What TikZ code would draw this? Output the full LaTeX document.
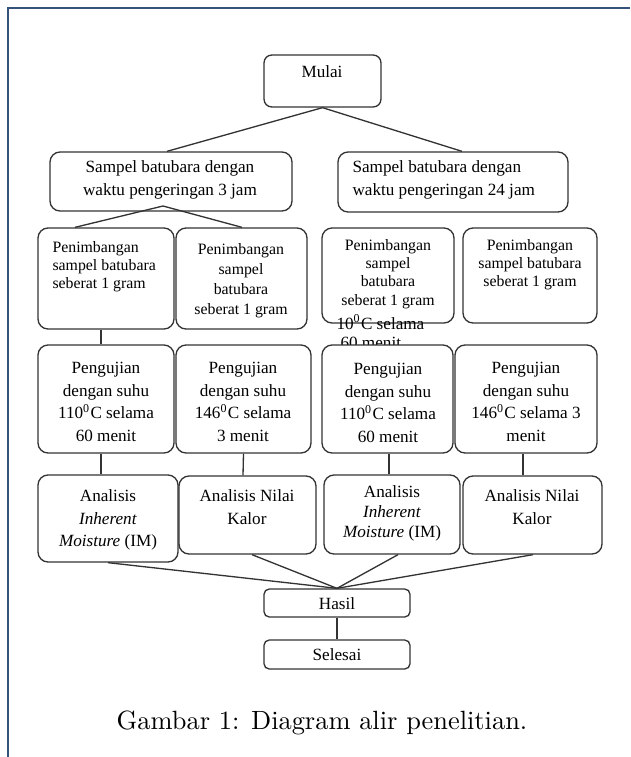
\documentclass[tikz,border=0pt]{standalone}
\usepackage{fontspec}
\newfontfamily\boxfont{Liberation Serif}
\usetikzlibrary{fit}
\definecolor{bingkai}{RGB}{52,82,122}

\begin{document}
\begin{tikzpicture}[x=0.379pt, y=-0.379pt,
    kotak/.style={draw=black!80, line width=0.5pt, rounded corners=3.8pt, inner sep=0pt, fill=white},
    teks/.style={font=\boxfont\fontsize{6.5}{8.5}\selectfont, align=center, inner sep=0pt},
    kecil/.style={font=\boxfont\fontsize{6}{6.9}\selectfont, align=center, inner sep=0pt},
    garis/.style={black!80, line width=0.5pt}]

    \useasboundingbox (0,0) rectangle (630,757);
    \draw[bingkai, line width=0.45pt] (8,757) -- (8,8) -- (630,8);

    \node[kotak, rounded corners=3pt, fit={(264,55) (381,107)}] (mulai) {};
    \node[kotak, fit={(50,152) (292,211)}] (sampel1) {};
    \node[kotak, fit={(338,152) (568,212)}] (sampel2) {};

    \node[kotak, fit={(38,228) (174,329)}] (pen1) {};
    \node[kotak, fit={(176,228) (307,329)}] (pen2) {};
    \node[kotak, fit={(322,228) (454,323)}] (pen3) {};
    \node[kotak, fit={(463,228) (597,323)}] (pen4) {};

    % sisa teks di bawah kotak penimbangan
    \node[teks, anchor=west] (sisa1) at (336,322) {10\textsuperscript{0}C selama};
    \node[teks, anchor=west] (sisa2) at (340,343) {60 menit};

    \node[kotak, fit={(38,345) (174,453)}] (uji1) {};
    \node[kotak, fit={(176,345) (311,453)}] (uji2) {};
    \node[kotak, fit={(322,345) (453,453)}] (uji3) {};
    \node[kotak, fit={(455,345) (597,453)}] (uji4) {};

    \node[kotak, fit={(38,475) (178,562)}] (ana1) {};
    \node[kotak, fit={(179,476) (316,554)}] (ana2) {};
    \node[kotak, fit={(324,475) (460,554)}] (ana3) {};
    \node[kotak, fit={(463,476) (602,554)}] (ana4) {};

    \node[kotak, rounded corners=2pt, fit={(264,589) (410,617)}] (hasil) {};
    \node[kotak, rounded corners=2pt, fit={(264,640) (410,669)}] (selesai) {};

    % teks dalam kotak
    \node[teks] (tmulai) at (322,72) {Mulai};
    \node[teks] (tsampel1) at (170,180) {Sampel batubara dengan\\waktu pengeringan 3 jam};
    \node[teks, anchor=west, align=left] (tsampel2) at (352,180) {Sampel batubara dengan\\waktu pengeringan 24 jam};

    \node[kecil, anchor=north west, align=left] (tpen1) at (52,241) {Penimbangan\\sampel batubara\\seberat 1 gram};
    \node[kecil, font=\boxfont\fontsize{6}{7.6}\selectfont] (tpen2) at (241,281) {Penimbangan\\sampel\\batubara\\seberat 1 gram};
    \node[kecil] (tpen3) at (388,274) {Penimbangan\\sampel\\batubara\\seberat 1 gram};
    \node[kecil] (tpen4) at (530,265) {Penimbangan\\sampel batubara\\seberat 1 gram};

    \node[teks] (tuji1) at (106,402) {Pengujian\\dengan suhu\\110\textsuperscript{0}C selama\\60 menit};
    \node[teks] (tuji2) at (243,402) {Pengujian\\dengan suhu\\146\textsuperscript{0}C selama\\3 menit};
    \node[teks] (tuji3) at (388,403) {Pengujian\\dengan suhu\\110\textsuperscript{0}C selama\\60 menit};
    \node[teks] (tuji4) at (526,402) {Pengujian\\dengan suhu\\146\textsuperscript{0}C selama 3\\menit};

    \node[teks] (tana1) at (108,520) {Analisis\\\textit{Inherent}\\\textit{Moisture} (IM)};
    \node[teks] (tana2) at (247,507) {Analisis Nilai\\Kalor};
    \node[teks, font=\boxfont\fontsize{6.5}{7.6}\selectfont] (tana3) at (392,513) {Analisis\\\textit{Inherent}\\\textit{Moisture} (IM)};
    \node[teks] (tana4) at (532,507) {Analisis Nilai\\Kalor};

    \node[teks] (thasil) at (337,604) {Hasil};
    \node[teks] (tselesai) at (337,655) {Selesai};

    % garis penghubung
    \coordinate (cabang) at (163,206);
    \draw[garis] (sampel1.north -| 167,0) -- (mulai.south) -- (sampel2.north -| 462,0);
    \draw[garis] (pen1.north -| 75,0) -- (cabang) -- (pen2.north -| 242,0);
    \draw[garis] (pen1.south -| 101,0) -- (uji1.north -| 101,0);

    \draw[garis] (uji1.south -| 101,0) -- (ana1.north -| 101,0);
    \draw[garis] (uji2.south) -- (ana2.north -| 243,0);
    \draw[garis] (uji3.south -| 389,0) -- (ana3.north -| 389,0);
    \draw[garis] (uji4.south -| 523,0) -- (ana4.north -| 523,0);

    \draw[garis] (ana1.south -| 108,0) -- (hasil.north);
    \draw[garis] (ana2.south -| 252,0) -- (hasil.north);
    \draw[garis] (ana3.south -| 398,0) -- (hasil.north);
    \draw[garis] (ana4.south -| 533,0) -- (hasil.north);
    \draw[garis] (hasil) -- (selesai);

    \node (judul) at (322,723) {Gambar 1: Diagram alir penelitian.};
\end{tikzpicture}
\end{document}
